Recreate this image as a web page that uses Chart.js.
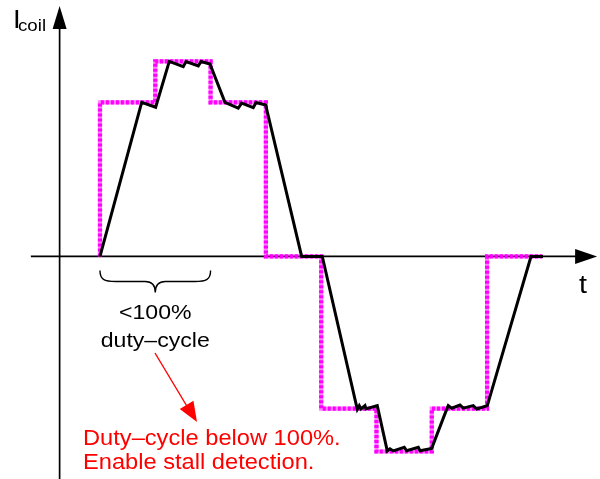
<!DOCTYPE html>
<html>
<head>
<meta charset="utf-8">
<title>Coil current vs duty-cycle</title>
<script src="https://cdn.jsdelivr.net/npm/chart.js@4/dist/chart.umd.min.js"></script>
<style>
  html, body { margin: 0; padding: 0; background: #fff; }
  canvas { display: block; }
</style>
</head>
<body>
<canvas id="coil" width="600" height="479"></canvas>
<script>
'use strict';

/* ── DATA ─────────────────────────── */
// time in microstep periods, current in % of full scale
const refT = [0, 0, 1, 2, 3, 4, 5, 6, 7, 8];
const refI = [0, 79, 100, 79, 0, -78, -100, -78, 0, 0];

const coilT = [0, 0.754, 1.007, 1.253, 1.506, 1.555, 1.778, 1.827, 1.989,
  2.26, 2.5, 2.562, 2.772, 2.821, 2.996, 3.647, 4.02,
  4.653, 4.689, 4.72, 4.792, 4.81, 5.014,
  5.195, 5.244, 5.304, 5.503, 5.546, 5.756, 5.787, 5.998,
  6.269, 6.298, 6.36, 6.51, 6.57, 6.75, 6.812, 7.004, 7.794, 8.011];
const coilI = [0, 79, 76.5, 100, 97.3, 99.9, 97.7, 100, 98.7,
  79, 76, 78.6, 76.3, 78.9, 77.7, 0, 0,
  -78.4, -76.5, -78.2, -76.5, -78.2, -76.5,
  -99.7, -98.6, -99.7, -97.8, -99.6, -97.8, -99.6, -98.4,
  -78.4, -76.5, -77.8, -76.2, -77.8, -76.5, -78.2, -76.5, 0, 0];

const xRange = [-1.808, 9.042];
const yRange = [-114.1, 131.5];

const FONT = '"Liberation Sans", Arial, Helvetica, sans-serif';
const STRETCH = 1.1; // glyphs in the source are a bit wide

const pts = (xs, ys) => xs.map((x, i) => ({ x, y: ys[i] }));

/* ── HELPERS ─────────────────────────── */
function text(ctx, str, x, y, size, color, align) {
  ctx.save();
  ctx.font = size + 'px ' + FONT;
  ctx.fillStyle = color;
  ctx.textBaseline = 'alphabetic';
  const w = ctx.measureText(str).width * STRETCH;
  let left = x;
  if (align === 'center') left = x - w / 2;
  ctx.translate(left, y);
  ctx.scale(STRETCH, 1);
  ctx.textAlign = 'left';
  ctx.fillText(str, 0, 0);
  ctx.restore();
}

function arrowHead(ctx, tipX, tipY, fromX, fromY, len, half, color) {
  const a = Math.atan2(tipY - fromY, tipX - fromX);
  const bx = tipX - Math.cos(a) * len, by = tipY - Math.sin(a) * len;
  ctx.beginPath();
  ctx.moveTo(tipX, tipY);
  ctx.lineTo(bx + Math.sin(a) * half, by - Math.cos(a) * half);
  ctx.lineTo(bx - Math.sin(a) * half, by + Math.cos(a) * half);
  ctx.closePath();
  ctx.fillStyle = color;
  ctx.fill();
}

/* ── AXES (drawn under the traces) ─────────────────────────── */
const axesPlugin = {
  id: 'axes',
  beforeDatasetsDraw(chart) {
    const { ctx, scales: { x, y } } = chart;
    const y0 = y.getPixelForValue(0);
    const xAxis = x.getPixelForValue(-0.73);
    ctx.save();
    ctx.strokeStyle = '#000';
    ctx.lineWidth = 1.7;
    ctx.beginPath();
    ctx.moveTo(x.getPixelForValue(-1.25), y0);
    ctx.lineTo(x.getPixelForValue(8.65), y0);
    ctx.moveTo(xAxis, chart.height);
    ctx.lineTo(xAxis, 28);
    ctx.stroke();
    arrowHead(ctx, x.getPixelForValue(8.99), y0, 0, y0, 22, 7.5, '#000');
    arrowHead(ctx, xAxis, 6, xAxis, 100, 23, 7, '#000');
    ctx.restore();
  },
  afterDraw(chart) {
    const { ctx, scales: { x, y } } = chart;
    const y0 = y.getPixelForValue(0);

    // axis labels
    text(ctx, 'I', 13, 28, 25, '#000');
    text(ctx, 'coil', 18, 31, 17, '#000');
    text(ctx, 't', 579, 293, 26, '#000');

    // brace under the first rising edge
    const bl = x.getPixelForValue(0), br = x.getPixelForValue(2);
    const bm = (bl + br) / 2;
    const top = y0 + 14, mid = y0 + 25, tip = y0 + 36;
    ctx.save();
    ctx.strokeStyle = '#000';
    ctx.lineWidth = 1.4;
    ctx.beginPath();
    ctx.moveTo(bl, top);
    ctx.bezierCurveTo(bl, mid - 2, bl + 4, mid, bl + 16, mid);
    ctx.lineTo(bm - 10, mid);
    ctx.bezierCurveTo(bm - 3, mid, bm, mid + 4, bm, tip);
    ctx.bezierCurveTo(bm, mid + 4, bm + 3, mid, bm + 10, mid);
    ctx.lineTo(br - 16, mid);
    ctx.bezierCurveTo(br - 4, mid, br, mid - 2, br, top);
    ctx.stroke();
    ctx.restore();

    text(ctx, '<100%', bm, 319, 21, '#000', 'center');
    text(ctx, 'duty\u2013cycle', bm, 347, 21, '#000', 'center');

    // red pointer
    ctx.save();
    ctx.strokeStyle = '#ff0000';
    ctx.lineWidth = 1.4;
    ctx.beginPath();
    ctx.moveTo(155, 353);
    ctx.lineTo(188, 408);
    ctx.stroke();
    arrowHead(ctx, 197, 422, 155, 353, 20, 8, '#ff0000');
    ctx.restore();

    text(ctx, 'Duty\u2013cycle below 100%.', 83, 445, 21.5, '#ff0000');
    text(ctx, 'Enable stall detection.', 83, 469, 21.5, '#ff0000');
  },
};

/* ── CHART ─────────────────────────── */
new Chart(document.getElementById('coil'), {
  type: 'line',
  data: {
    datasets: [
      {
        label: 'Coil current',
        data: pts(coilT, coilI),
        borderColor: '#000',
        borderWidth: 3,
        borderJoinStyle: 'miter',
        pointRadius: 0,
        tension: 0,
      },
      {
        label: 'Target current',
        data: pts(refT, refI),
        stepped: 'before',
        borderColor: '#ff00ff',
        borderWidth: 4.2,
        borderDash: [3, 2],
        pointRadius: 0,
      },
      {
        label: 'Target current (under)',
        data: pts(refT, refI),
        stepped: 'before',
        borderColor: 'rgba(255,0,255,0.5)',
        borderWidth: 4.2,
        pointRadius: 0,
      },
    ],
  },
  options: {
    responsive: false,
    animation: false,
    layout: { padding: 0 },
    plugins: {
      legend:  { display: false },
      tooltip: { enabled: false },
    },
    scales: {
      x: { type: 'linear', display: false, min: xRange[0], max: xRange[1] },
      y: { type: 'linear', display: false, min: yRange[0], max: yRange[1] },
    },
  },
  plugins: [axesPlugin],
});
</script>
</body>
</html>
